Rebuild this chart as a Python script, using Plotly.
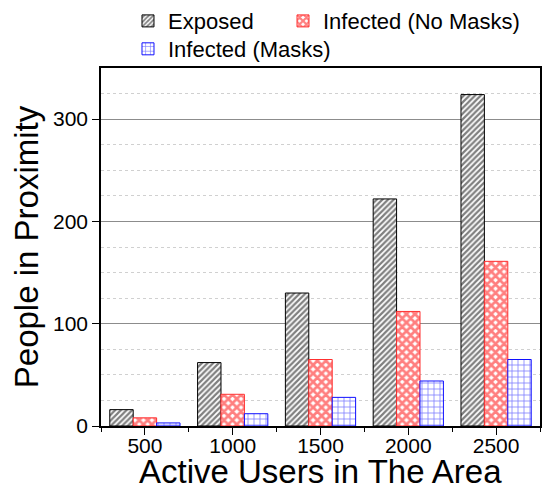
import plotly.graph_objects as go

categories = ["500", "1000", "1500", "2000", "2500"]
exposed = [16, 62, 130, 222, 324]
infected_no_masks = [8, 31, 65, 112, 161]
infected_masks = [3, 12, 28, 44, 65]

y_major = [0, 100, 200, 300]
y_minor_ticks = [25, 75, 125, 175, 225, 275, 325]

FONT = "Arial, 'Liberation Sans', sans-serif"
xpos = list(range(len(categories)))

fig = go.Figure()
fig.add_trace(go.Bar(
    x=xpos, y=exposed, name="Exposed", legend="legend", showlegend=True,
    marker=dict(color="white", line=dict(color="black", width=1),
                pattern=dict(shape="/", fgcolor="black", bgcolor="white", size=4, solidity=0.55)),
))
fig.add_trace(go.Bar(
    x=xpos, y=infected_no_masks, name="Infected (No Masks)", legend="legend3", showlegend=True,
    marker=dict(color="white", line=dict(color="#ff3030", width=1),
                pattern=dict(shape="x", fgcolor="#ff0000", bgcolor="white", size=6, solidity=0.7)),
))
fig.add_trace(go.Bar(
    x=xpos, y=infected_masks, name="Infected (Masks)", legend="legend2", showlegend=True,
    marker=dict(color="white", line=dict(color="#1010ff", width=1),
                pattern=dict(shape="+", fgcolor="#0000ff", bgcolor="white", size=6, solidity=0.25)),
))

leg_common = dict(orientation="h", xanchor="left", yanchor="middle",
                  font=dict(size=22, family=FONT), traceorder="normal",
                  bgcolor="rgba(0,0,0,0)", borderwidth=0, visible=True)

fig.update_layout(
    width=546, height=487, showlegend=True,
    margin=dict(l=101, r=6, t=68, b=61, autoexpand=False),
    paper_bgcolor="white", plot_bgcolor="white",
    barmode="group", bargap=0.2, bargroupgap=0,
    font=dict(family=FONT, color="black"),
    legend=dict(x=0.0615, y=1.131, **leg_common),
    legend3=dict(x=0.4146, y=1.131, **leg_common),
    legend2=dict(x=0.0615, y=1.053, **leg_common),
    xaxis=dict(
        range=[-0.5, 4.5], tickmode="array", tickvals=xpos, ticktext=categories,
        ticks="outside", ticklen=7, tickwidth=1.3, tickcolor="black",
        showline=True, linecolor="black", linewidth=1.5, mirror=True,
        showgrid=False, zeroline=False, automargin=False,
        ticklabelstandoff=-7,
        tickfont=dict(size=21, family=FONT),
        minor=dict(tickmode="array", tickvals=[-0.5, 0.5, 1.5, 2.5, 3.5, 4.5],
                   ticks="outside", ticklen=4, tickcolor="black", showgrid=False),
    ),
    xaxis2=dict(
        overlaying="x", side="top", anchor="y", range=[-0.5, 4.5],
        tickmode="array", tickvals=[0.5, 1.5, 2.5, 3.5],
        ticks="inside", ticklen=7, tickwidth=1.3, tickcolor="black",
        showticklabels=False, showgrid=False, zeroline=False, showline=False,
        automargin=False,
        minor=dict(tickmode="array", tickvals=xpos, ticks="inside", ticklen=4,
                   tickcolor="black", showgrid=False),
    ),
    yaxis=dict(
        range=[0, 350], tickmode="array", tickvals=y_major,
        ticks="outside", ticklen=7, tickwidth=1.3, tickcolor="black",
        showline=True, linecolor="black", linewidth=1.5, mirror=True,
        showgrid=True, gridcolor="#8c8c8c", gridwidth=1, zeroline=False,
        automargin=False,
        tickfont=dict(size=21, family=FONT),
        minor=dict(dtick=25, tick0=0, showgrid=True, gridcolor="#d0d0d0",
                   griddash="dot", gridwidth=1, ticks=""),
        title=dict(text="People in Proximity", font=dict(size=33, family=FONT), standoff=4),
    ),
    yaxis3=dict(
        overlaying="y", side="left", anchor="x", range=[0, 350],
        tickmode="array", tickvals=y_minor_ticks,
        ticks="outside", ticklen=4, tickwidth=1.3, tickcolor="black",
        showticklabels=False, showgrid=False, zeroline=False, showline=False,
        automargin=False,
    ),
    yaxis2=dict(
        overlaying="y", side="right", anchor="x", range=[0.95, 11.02],
        tickmode="linear", tick0=0, dtick=3,
        ticks="inside", ticklen=7, tickwidth=1.3, tickcolor="black",
        showticklabels=False, showgrid=False, zeroline=False, showline=False,
        automargin=False,
        minor=dict(tickmode="linear", tick0=0, dtick=1, ticks="inside", ticklen=4,
                   tickcolor="black", showgrid=False),
    ),
    annotations=[dict(
        text="Active Users in The Area", xref="paper", yref="paper",
        x=0.5, y=0, xanchor="center", yanchor="middle", yshift=-45,
        showarrow=False, font=dict(size=33, family=FONT, color="black"),
    )],
)

fig.write_html("out.html", config={"displayModeBar": False},
               post_script="document.body.style.margin='0';")
